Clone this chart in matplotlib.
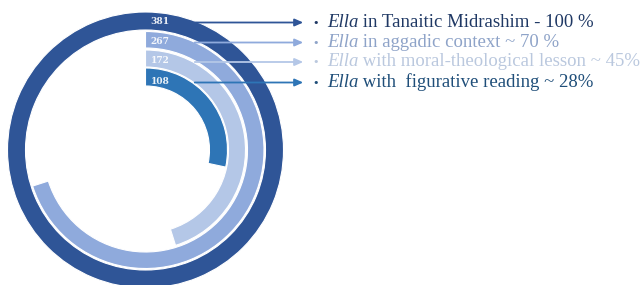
import matplotlib
matplotlib.use("Agg")
import matplotlib.pyplot as plt
from matplotlib.patches import Wedge

# data
values = [381, 267, 172, 108]
ring_labels = ["381", "267", "172", "108"]
descriptions = [" in Tanaitic Midrashim - 100 %",
                " in aggadic context ~ 70 %",
                " with moral-theological lesson ~ 45%",
                " with  figurative reading ~ 28%"]
ring_colors = ["#2F5597", "#8FAADC", "#B4C7E7", "#2E75B6"]
text_colors = ["#1F3864", "#8EA3C8", "#BAC8DE", "#1F4E79"]

W, H = 644, 285
fig = plt.figure(figsize=(W / 100, H / 100), dpi=100)
ax = fig.add_axes([0, 0, 1, 1])
ax.set_xlim(0, W)
ax.set_ylim(H, 0)
ax.set_aspect("equal")
ax.axis("off")

cx, cy = 145.5, 150
outer = [138, 118.5, 100, 82]
width = [18, 16.5, 17, 18]
total = values[0]

for v, r, w, c in zip(values, outer, width, ring_colors):
    frac = v / total
    wd = Wedge((cx, cy), r, 270, 270 + 360 * frac, width=w,
               facecolor=c, edgecolor="white", linewidth=0.8)
    ax.add_patch(wd)

fig.canvas.draw()
renderer = fig.canvas.get_renderer()

line_y = [22.5, 42.5, 62, 82.5]
for i, (lab, desc, y) in enumerate(zip(ring_labels, descriptions, line_y)):
    ax.text(cx + 5, y - 1.5, lab, color="white", fontsize=6.5, fontweight="bold",
            family="DejaVu Serif", va="center", ha="left", alpha=0.9)
    ax.annotate("", xy=(306, y), xytext=(192, y),
                arrowprops=dict(arrowstyle="-|>,head_length=0.5,head_width=0.22",
                                color=ring_colors[i], lw=1.3))
    ax.text(316, y, "\u2022", color=text_colors[i], fontsize=8,
            va="center", ha="center", family="DejaVu Sans")
    t1 = ax.text(327, y, "Ella", color=text_colors[i], fontsize=13.5,
                 family="Liberation Serif", style="italic", va="center", ha="left")
    bb = t1.get_window_extent(renderer)
    x2 = ax.transData.inverted().transform((bb.x1, bb.y0))[0]
    ax.text(x2, y, desc, color=text_colors[i], fontsize=13.5,
            family="Liberation Serif", va="center", ha="left")

fig.savefig("out.png", dpi=100)
